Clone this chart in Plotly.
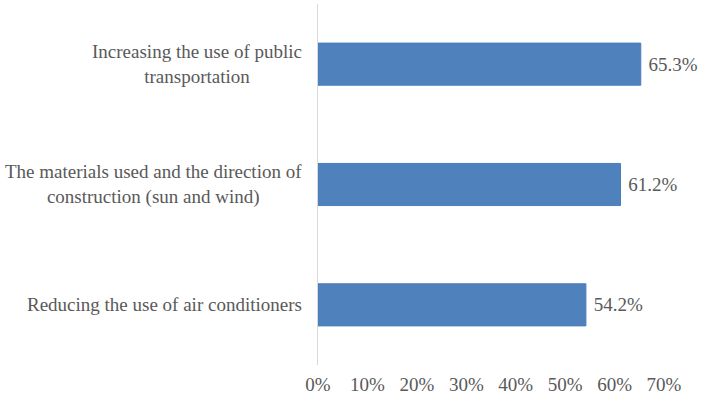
import plotly.graph_objects as go

categories = [
    "Reducing the use of air conditioners",
    "The materials used and the direction of<br>construction (sun and wind)",
    "Increasing the use of public<br>transportation",
]
values = [0.542, 0.612, 0.653]
tick_vals = [0, 0.1, 0.2, 0.3, 0.4, 0.5, 0.6, 0.7]
tick_text = ["0%", "10%", "20%", "30%", "40%", "50%", "60%", "70%"]

FONT = "Liberation Serif"
TXT = "#595959"
FS = 19

fig = go.Figure(
    go.Bar(
        y=categories,
        x=values,
        orientation="h",
        marker=dict(color="#4F81BD", line=dict(color="#4A7EBB", width=1)),
        text=["\u00a0" + f"{v*100:.1f}%" for v in values],
        textposition="outside",
        textfont=dict(family=FONT, size=FS, color=TXT),
        cliponaxis=False,
        width=0.35,
        hoverinfo="skip",
    )
)

for c in categories:
    fig.add_annotation(
        x=0, xref="paper", y=c, yref="y",
        text=c, showarrow=False, xanchor="right", align="center",
        xshift=-14, font=dict(family=FONT, size=FS, color=TXT),
    )

fig.update_layout(
    width=702, height=399,
    margin=dict(l=318, r=38, t=4, b=34),
    plot_bgcolor="white", paper_bgcolor="white",
    showlegend=False,
    xaxis=dict(
        range=[0, 0.7], tickvals=tick_vals, ticktext=tick_text,
        showgrid=False, zeroline=False, showline=False,
        tickfont=dict(family=FONT, size=FS, color=TXT),
        ticks="", ticklabelstandoff=6,
    ),
    yaxis=dict(
        showticklabels=False, showgrid=False, zeroline=False,
        showline=True, linecolor="#D9D9D9", linewidth=1,
        range=[-0.5, 2.5],
    ),
)

fig.write_html("out.html", config={"displayModeBar": False},
               post_script="document.body.style.margin='0';")
